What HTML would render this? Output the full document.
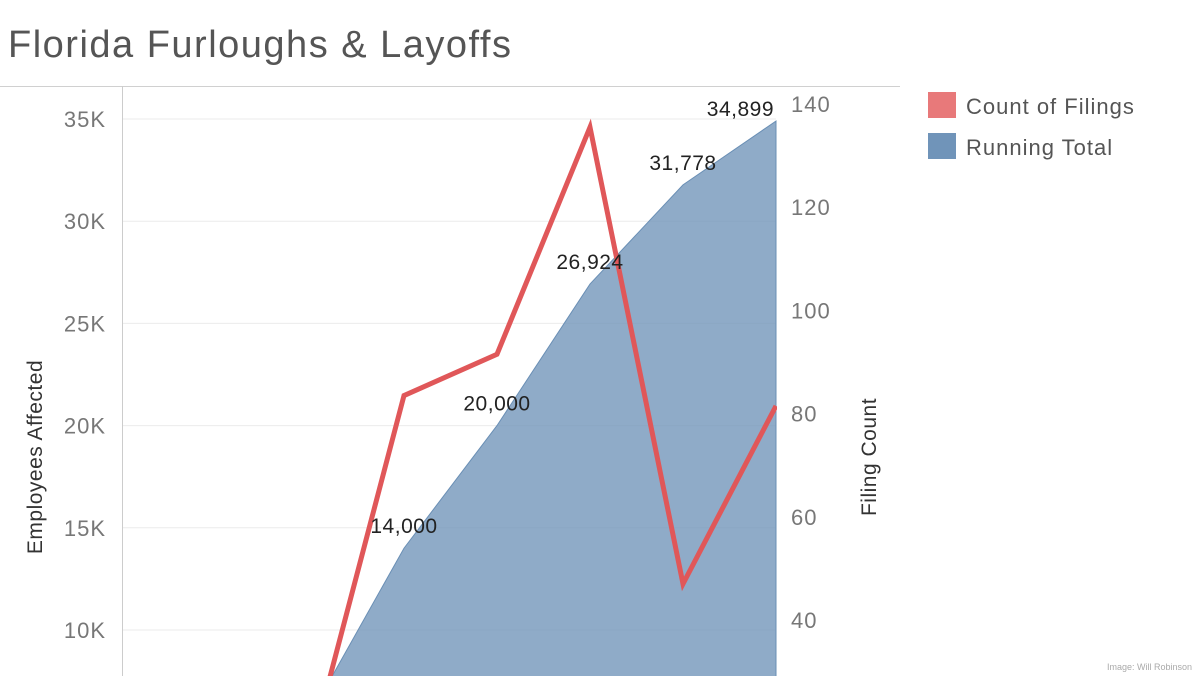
<!DOCTYPE html>
<html style="overflow:hidden"><head><meta charset="utf-8"><style>
html,body{margin:0;padding:0;background:#fff;width:1200px;height:676px;overflow:hidden;font-family:"Liberation Sans",sans-serif}
svg{display:block}
</style></head><body>
<svg width="1200" height="676" viewBox="0 0 1200 676" font-family="Liberation Sans, sans-serif">
<text x="8" y="57" font-size="38" letter-spacing="1.5" fill="#555">Florida Furloughs &amp; Layoffs</text>
<line x1="0" y1="86.5" x2="900" y2="86.5" stroke="#d0d0d0"/>
<g id="grid"></g>
<defs><clipPath id="pc"><rect x="122" y="86" width="655" height="590"/></clipPath></defs>
<g id="marks" clip-path="url(#pc)"></g>
<line x1="122.5" y1="86" x2="122.5" y2="676" stroke="#ccc"/>
<g id="axes"></g>
<g id="labels"></g>
<text transform="translate(42,457) rotate(-90)" text-anchor="middle" font-size="21" letter-spacing="0.5" fill="#333">Employees Affected</text>
<text transform="translate(876,457) rotate(-90)" text-anchor="middle" font-size="21" letter-spacing="0.5" fill="#333">Filing Count</text>
<g>
<rect x="928" y="92" width="28" height="26" fill="#e8797a"/>
<text x="966" y="114" font-size="22" letter-spacing="1" fill="#555">Count of Filings</text>
<rect x="928" y="133" width="28" height="26" fill="#7094b9"/>
<text x="966" y="155" font-size="22" letter-spacing="1" fill="#555">Running Total</text>
</g>
<text x="1192" y="670" text-anchor="end" font-size="9" fill="#aaa">Image: Will Robinson</text>
</svg>
<script>
const categories=["p1","p2","p3","p4","p5","p6","p7","p8"];
const runningTotal=[1500,3500,5900,14000,20000,26924,31778,34899];
const filingCount=[5,10,15,83.5,91.5,135.5,47,81.5];
const showLabel=[false,false,false,true,true,true,true,true];
const leftTicks=[10000,15000,20000,25000,30000,35000];
const leftTickLabels=["10K","15K","20K","25K","30K","35K"];
const rightTicks=[40,60,80,100,120,140];

const NS="http://www.w3.org/2000/svg";
function x(i){return 776-(categories.length-1-i)*93;}
function yL(v){return 119+(35000-v)*102.2/5000;}
function yR(v){return 104+(140-v)*5.16;}
function mk(t,a,p){const e=document.createElementNS(NS,t);for(const k in a)e.setAttribute(k,a[k]);p.appendChild(e);return e;}
const grid=document.getElementById('grid'),axes=document.getElementById('axes'),marks=document.getElementById('marks'),labels=document.getElementById('labels');
leftTicks.forEach((v,i)=>{
 const l=mk('line',{x1:122,x2:776,y1:yL(v),y2:yL(v),stroke:'#ebebeb'},grid);
 
 
 const t=mk('text',{x:106,y:yL(v)+8,'text-anchor':'end','font-size':22,'letter-spacing':1,fill:'#777'},axes);
 t.textContent=leftTickLabels[i];
 
 
});
rightTicks.forEach(v=>{
 const t=mk('text',{x:791,y:yR(v)+8,'font-size':22,'letter-spacing':1,fill:'#777'},axes);
 t.textContent=v;
 
 
});
let d='M'+x(0)+',700';
runningTotal.forEach((v,i)=>{d+=' L'+x(i)+','+yL(v);});
d+=' L'+x(categories.length-1)+',700 Z';
const area=mk('path',{d:d,fill:'#7094b9','fill-opacity':0.78,stroke:'#6a8fb5','stroke-width':1},marks);


const pts=filingCount.map((v,i)=>x(i)+','+yR(v)).join(' ');
const line=mk('polyline',{points:pts,fill:'none',stroke:'#e05759','stroke-width':5,'stroke-linejoin':'miter'},marks);


runningTotal.forEach((v,i)=>{
 if(!showLabel[i])return;
 const last=i==categories.length-1;
 const t=mk('text',{x:last?x(i)-2:x(i),y:yL(v)-(last?5:15),'text-anchor':last?'end':'middle','font-size':21,'letter-spacing':0.5,fill:'#222'},labels);
 t.textContent=v.toLocaleString('en-US');
 
 
});
</script>
</body></html>
